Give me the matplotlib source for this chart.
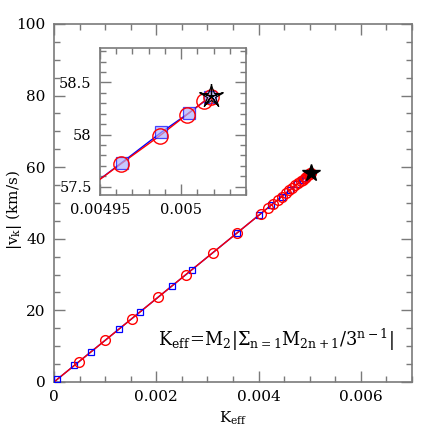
import matplotlib
matplotlib.use("Agg")
import matplotlib.pyplot as plt
from matplotlib.ticker import MultipleLocator, FuncFormatter

plt.rcParams['font.family'] = ['DejaVu Serif']
plt.rcParams['mathtext.fontset'] = 'dejavuserif'

# red circles: K_eff and |v_k|
circ_k = [0.00049, 0.00100, 0.00152, 0.00203, 0.00258, 0.00310, 0.00357, 0.00404,
          0.00418, 0.00428, 0.00437, 0.00445, 0.00453, 0.00460, 0.00466, 0.00472,
          0.00477, 0.00482, 0.00486, 0.00490, 0.00493, 0.004963, 0.004987,
          0.0050035, 0.0050142, 0.0050183]
circ_v = [5.70, 11.63, 17.68, 23.61, 30.01, 36.05, 41.52, 46.99,
          48.61, 49.78, 50.82, 51.75, 52.68, 53.50, 54.20, 54.89,
          55.48, 56.06, 56.52, 56.99, 57.34, 57.72, 57.99,
          58.19, 58.32, 58.36]
# blue squares
sq_k = [0.0000645, 0.000397, 0.000716, 0.001276, 0.00168, 0.00230, 0.00270, 0.00357,
        0.00401, 0.00425, 0.00445, 0.00462, 0.00475, 0.00485, 0.00491,
        0.0049634, 0.0049877, 0.0050051, 0.0050179]
sq_v = [0.75, 4.62, 8.33, 14.84, 19.54, 26.75, 31.40, 41.52,
        46.64, 49.43, 51.75, 53.73, 55.24, 56.41, 57.10,
        57.73, 58.02, 58.21, 58.36]
star_k = [0.0050183]
star_v = [58.37]

x_ticks = [0, 0.002, 0.004, 0.006]
y_ticks = [0, 20, 40, 60, 80, 100]
in_x_ticks = [0.00495, 0.005]
in_y_ticks = [57.5, 58, 58.5]

spine_col = '#7a7a7a'
fmt = FuncFormatter(lambda v, p: '%g' % v)

fig = plt.figure(figsize=(4.36, 4.36), dpi=100)
ax = fig.add_axes([0.124, 0.124, 0.821, 0.821])


def style(a, fs):
    for s in a.spines.values():
        s.set_color(spine_col)
        s.set_linewidth(1.2)
    a.tick_params(which='both', direction='in', top=True, right=True,
                  color=spine_col, labelsize=fs, width=1.0)
    a.tick_params(which='major', length=8, pad=6)
    a.tick_params(which='minor', length=4)
    a.xaxis.set_major_formatter(fmt)
    a.yaxis.set_major_formatter(fmt)


def draw(a, ms_c, ms_s, ms_star, inset=False):
    a.plot([0] + sq_k, [0] + sq_v, color='blue', lw=1.0, zorder=2)
    a.plot([0] + circ_k, [0] + circ_v, color='red', lw=1.0, zorder=3)
    a.plot(sq_k, sq_v, ls='none', marker='s', ms=ms_s, mfc=('#b0b0ff' if inset else 'none'),
           mec='blue', mew=0.9, alpha=(0.7 if inset else 1), zorder=4)
    a.plot(circ_k, circ_v, ls='none', marker='o', ms=ms_c, mfc='none',
           mec='red', mew=1.0, zorder=5)
    if inset:
        a.plot(star_k, star_v, ls='none', marker=(5, 2), ms=ms_star, color='black', mew=0.9, zorder=6)
        a.plot(star_k, star_v, ls='none', marker='*', ms=ms_star * 0.9, mfc='none', mec='black', mew=0.8, zorder=6)
    else:
        a.plot(star_k, star_v, ls='none', marker='*', ms=ms_star, color='black', zorder=6)


draw(ax, 7, 5, 13)
ax.set_xlim(0, 0.007)
ax.set_ylim(0, 100)
ax.set_xticks(x_ticks)
ax.set_yticks(y_ticks)
ax.xaxis.set_minor_locator(MultipleLocator(0.0005))
ax.yaxis.set_minor_locator(MultipleLocator(5))
style(ax, 11)
ax.set_xlabel(r'$\mathrm{K_{eff}}$', fontsize=11, labelpad=4)
ax.set_ylabel(r'$|\mathrm{v_k}|\ \mathrm{(km/s)}$', fontsize=11)
ax.yaxis.set_label_coords(-0.085, 0.48)
ax.text(0.00203, 11.7, r'$\mathrm{K_{eff}\!=\!M_2|\Sigma_{n=1}M_{2n+1}/3^{n-1}|}$',
        fontsize=12.8, ha='left', va='center')

ins = fig.add_axes([0.2294, 0.5528, 0.3349, 0.3372])
draw(ins, 11, 9, 18, inset=True)
ins.set_xlim(0.00495, 0.005040)
ins.set_ylim(57.42, 58.83)
ins.set_xticks(in_x_ticks)
ins.set_yticks(in_y_ticks)
ins.xaxis.set_minor_locator(MultipleLocator(0.00001))
ins.yaxis.set_minor_locator(MultipleLocator(0.1))
style(ins, 10.5)

fig.savefig('out.png', dpi=100)
